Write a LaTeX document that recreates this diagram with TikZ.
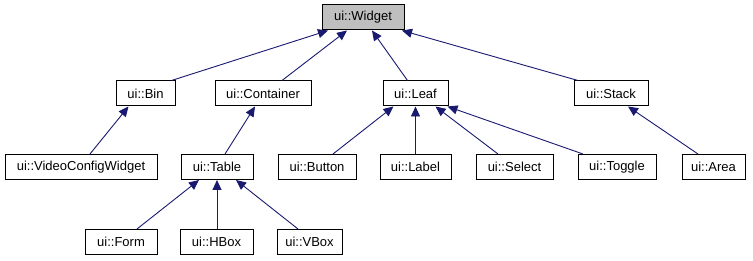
\documentclass[tikz,border=0pt]{standalone}
\usepackage{fontspec}
\setmainfont{Liberation Sans}
\usetikzlibrary{arrows.meta}
\definecolor{edgeblue}{RGB}{25,25,112}
\definecolor{rootgray}{RGB}{191,191,191}
\begin{document}
\begin{tikzpicture}[x=1pt,y=-1pt,
  cls/.style={draw=black, line width=1pt, fill=white, minimum height=25pt,
    inner sep=0pt, font=\fontsize{13}{15}\selectfont},
  root/.style={cls, fill=rootgray},
  edge/.style={draw=edgeblue, line width=0.9pt,
    -{Triangle[length=10pt,width=9pt]}, shorten >=0pt}
]
\useasboundingbox (0,0) rectangle (753,261);

% row 0
\node[root, minimum width=82pt] (widget) at (363,17.5) {ui::Widget};
% row 1
\node[cls, minimum width=59pt] (bin) at (145.5,93.5) {ui::Bin};
\node[cls, minimum width=96pt] (container) at (263,93.5) {ui::Container};
\node[cls, minimum width=65pt] (leaf) at (415.5,93.5) {ui::Leaf};
\node[cls, minimum width=74pt] (stack) at (611,93.5) {ui::Stack};
% row 2
\node[cls, minimum width=152pt] (video) at (81,167) {ui::VideoConfigWidget};
\node[cls, minimum width=72pt] (table) at (217,167) {ui::Table};
\node[cls, minimum width=78pt] (button) at (317,167) {ui::Button};
\node[cls, minimum width=71pt] (label) at (415.5,167) {ui::Label};
\node[cls, minimum width=77pt] (select) at (514.5,167) {ui::Select};
\node[cls, minimum width=78pt] (toggle) at (617,167) {ui::Toggle};
\node[cls, minimum width=63pt] (area) at (713.5,167) {ui::Area};
% row 3
\node[cls, minimum width=72pt] (form) at (121,242) {ui::Form};
\node[cls, minimum width=73pt] (hbox) at (216.5,242) {ui::HBox};
\node[cls, minimum width=65pt] (vbox) at (309.5,242) {ui::VBox};

% inheritance edges (child -> parent)
\draw[edge] ([xshift=26pt]bin.north) -- ([xshift=-35pt]widget.south);
\draw[edge] ([xshift=19pt]container.north) -- ([xshift=-16pt]widget.south);
\draw[edge] ([xshift=-8pt]leaf.north) -- ([xshift=9pt]widget.south);
\draw[edge] ([xshift=-33pt]stack.north) -- ([xshift=39pt]widget.south);

\draw[edge] ([xshift=9pt]video.north) -- ([xshift=-17pt]bin.south);
\draw[edge] ([xshift=8pt]table.north) -- ([xshift=-8pt]container.south);
\draw[edge] ([xshift=16pt]button.north) -- ([xshift=-22pt]leaf.south);
\draw[edge] (label.north) -- (leaf.south);
\draw[edge] ([xshift=-16.5pt]select.north) -- ([xshift=20pt]leaf.south);
\draw[edge] ([xshift=-34pt]toggle.north) -- ([xshift=32pt]leaf.south);
\draw[edge] ([xshift=-15.5pt]area.north) -- ([xshift=17pt]stack.south);

\draw[edge] ([xshift=16pt]form.north) -- ([xshift=-18pt]table.south);
\draw[edge] ([xshift=0.5pt]hbox.north) -- (table.south);
\draw[edge] ([xshift=-11.5pt]vbox.north) -- ([xshift=19pt]table.south);
\end{tikzpicture}
\end{document}
